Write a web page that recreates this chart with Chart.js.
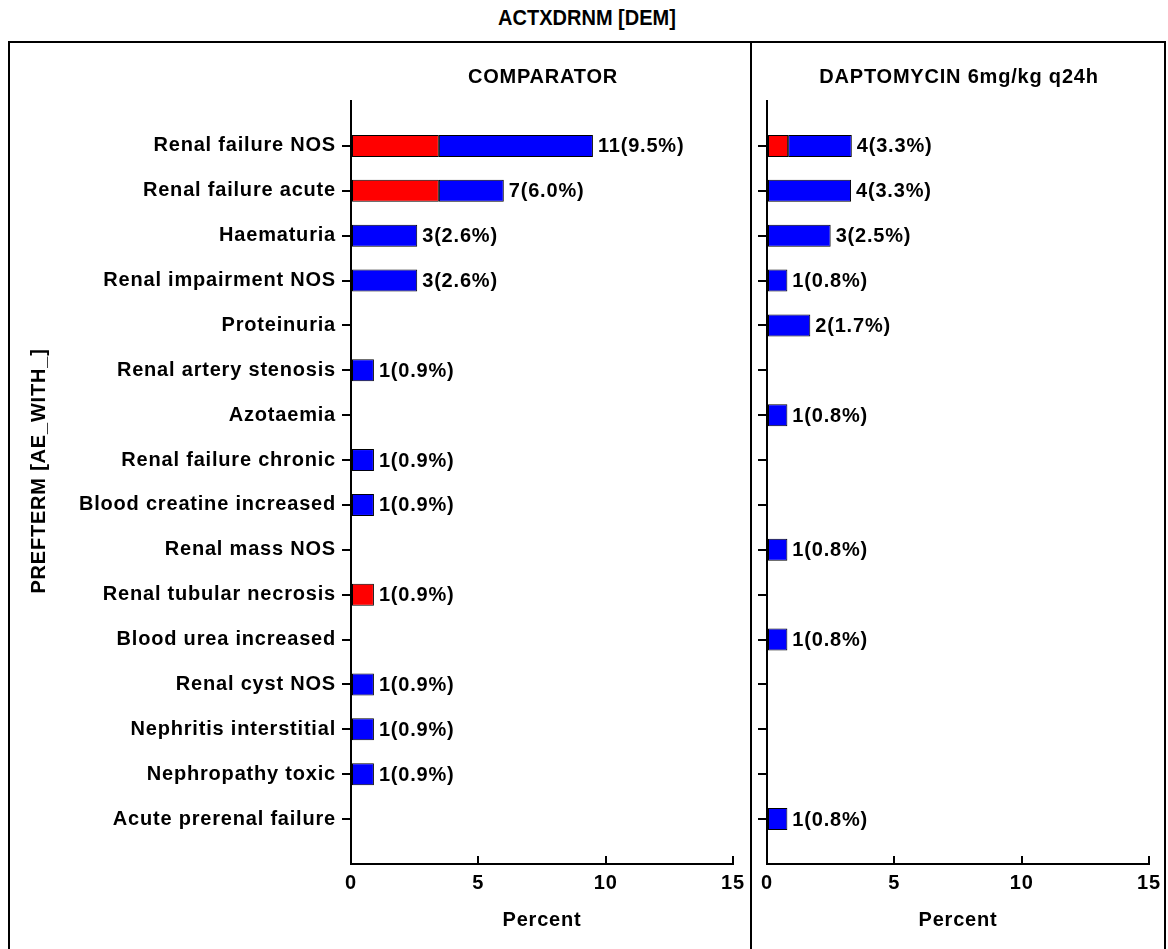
<!DOCTYPE html>
<html><head><meta charset="utf-8">
<script src="https://cdn.jsdelivr.net/npm/chart.js@4/dist/chart.umd.min.js"></script>
<style>
html,body{margin:0;padding:0;background:#fff;}
body{width:1168px;height:949px;position:relative;overflow:hidden;}
#title{position:absolute;left:0;width:1174px;top:6px;text-align:center;font:bold 20px 'Liberation Sans',Arial,sans-serif;color:#000;transform:scaleY(1.1);}
#frame{position:absolute;left:8px;top:41px;width:1158px;height:940px;border:2px solid #000;box-sizing:border-box;}
#divider{position:absolute;left:750px;top:41px;width:2px;height:908px;background:#000;}
#w1{position:absolute;left:10px;top:43px;width:740px;height:906px;}
#w2{position:absolute;left:752px;top:43px;width:412px;height:906px;}
</style></head>
<body>
<div id="title">ACTXDRNM [DEM]</div>
<div id="frame"></div>
<div id="divider"></div>
<div id="w1"><canvas id="c1" width="740" height="906"></canvas></div>
<div id="w2"><canvas id="c2" width="412" height="906"></canvas></div>
<script>
const mainTitle = 'ACTXDRNM [DEM]';
const yTitle = 'PREFTERM [AE_WITH_]';
const xTitle = 'Percent';
const panelTitles = ['COMPARATOR', 'DAPTOMYCIN 6mg/kg q24h'];
const categories = ['Renal failure NOS','Renal failure acute','Haematuria','Renal impairment NOS','Proteinuria','Renal artery stenosis','Azotaemia','Renal failure chronic','Blood creatine increased','Renal mass NOS','Renal tubular necrosis','Blood urea increased','Renal cyst NOS','Nephritis interstitial','Nephropathy toxic','Acute prerenal failure'];
const compRed   = [3.45,3.45,null,null,null,null,null,null,null,null,0.9,null,null,null,null,null];
const compBlue  = [6.05,2.55,2.6,2.6,null,0.9,null,0.9,0.9,null,null,null,0.9,0.9,0.9,null];
const compCount = [11,7,3,3,null,1,null,1,1,null,1,null,1,1,1,null];
const compPct   = [9.5,6.0,2.6,2.6,null,0.9,null,0.9,0.9,null,0.9,null,0.9,0.9,0.9,null];
const daptoRed   = [0.83,null,null,null,null,null,null,null,null,null,null,null,null,null,null,null];
const daptoBlue  = [2.5,3.3,2.5,0.8,1.7,null,0.8,null,null,0.8,null,0.8,null,null,null,0.8];
const daptoCount = [4,4,3,1,2,null,1,null,null,1,null,1,null,null,null,1];
const daptoPct   = [3.3,3.3,2.5,0.8,1.7,null,0.8,null,null,0.8,null,0.8,null,null,null,0.8];
const xMin = 0, xMax = 15, xStep = 5;

const FAM = "'Liberation Sans', Arial, sans-serif";
const FS = 20;
const FONT = 'bold ' + FS + 'px ' + FAM;
const LS = '0.8px';
const RED = '#FF0000', BLUE = '#0000FF';

document.getElementById('title').textContent = mainTitle;

const pad = a => [null, ...a, null];
const yLabels = ['', ...categories, ''];

const spacingPlugin = {
  id: 'spacing',
  beforeUpdate(chart){ chart.ctx.letterSpacing = LS; },
  beforeDraw(chart){ chart.ctx.letterSpacing = LS; }
};

const extras = {
  id: 'extras',
  afterDatasetsDraw(chart, args, o){
    const ctx = chart.ctx, xs = chart.scales.x, ys = chart.scales.y, ca = chart.chartArea;
    ctx.save();
    ctx.letterSpacing = LS;
    ctx.font = FONT; ctx.fillStyle = '#000'; ctx.textBaseline = 'middle'; ctx.textAlign = 'left';
    o.counts.forEach((c, i) => {
      if (c == null) return;
      const total = (o.red[i] || 0) + (o.blue[i] || 0);
      const x = xs.getPixelForValue(total);
      const y = ys.getPixelForValue(i + 1);
      ctx.fillText(c + '(' + o.pcts[i].toFixed(1) + '%)', x + 5, y + 1);
    });
    ctx.textAlign = 'center';
    ctx.fillText(o.panelTitle, (ca.left + ca.right) / 2 + 1, o.panelY);
    if (o.yTitle) {
      ctx.translate(o.yTitleX, o.yTitleY);
      ctx.rotate(-Math.PI / 2);
      ctx.fillText(o.yTitle, 0, 0);
    }
    ctx.restore();
  }
};

function makeChart(id, red, blue, counts, pcts, panelTitle, yWidth, padRight, showYLabels, withYTitle){
  return new Chart(document.getElementById(id), {
    type: 'bar',
    data: {
      labels: yLabels,
      datasets: [
        {data: pad(red), backgroundColor: RED, borderColor: '#000', borderWidth: 1, borderSkipped: false, barPercentage: 0.49, categoryPercentage: 1},
        {data: pad(blue), backgroundColor: BLUE, borderColor: '#000', borderWidth: 1, borderSkipped: false, barPercentage: 0.49, categoryPercentage: 1}
      ]
    },
    options: {
      indexAxis: 'y',
      responsive: false,
      animation: false,
      devicePixelRatio: 1,
      layout: {padding: {top: 58, right: padRight, bottom: 0, left: 0}},
      plugins: {
        legend: {display: false},
        tooltip: {enabled: false},
        title: {display: false},
        extras: {red, blue, counts, pcts, panelTitle, panelY: 34,
                 yTitle: withYTitle ? yTitle : null, yTitleX: 29, yTitleY: 428}
      },
      scales: {
        x: {
          type: 'linear', stacked: true, min: xMin, max: xMax,
          ticks: {stepSize: xStep, color: '#000', font: {family: FAM, size: FS, weight: 'bold'}, padding: 15, maxRotation: 0},
          grid: {display: true, drawOnChartArea: false, drawTicks: true, tickLength: -8, color: '#000', lineWidth: 2},
          border: {display: true, color: '#000', width: 2},
          title: {display: true, text: xTitle, color: '#000', font: {family: FAM, size: FS, weight: 'bold'}, padding: {top: 0, bottom: 17}},
          afterFit(s){ s.height = 85; s.paddingLeft = 0; s.paddingRight = 0; }
        },
        y: {
          type: 'category', stacked: true, offset: false,
          ticks: {display: showYLabels, color: '#000', font: {family: FAM, size: FS, weight: 'bold'}, padding: 6, autoSkip: false},
          grid: {display: true, drawOnChartArea: false, drawTicks: true, tickLength: 9, lineWidth: 2, offset: false,
                 tickColor: c => (c.index === 0 || c.index === yLabels.length - 1) ? 'rgba(0,0,0,0)' : '#000', color: '#000'},
          border: {display: true, color: '#000', width: 2},
          afterFit(s){ s.width = yWidth; s.paddingTop = 0; s.paddingBottom = 0; }
        }
      }
    },
    plugins: [spacingPlugin, extras]
  });
}

makeChart('c1', compRed, compBlue, compCount, compPct, panelTitles[0], 341, 17, true, true);
makeChart('c2', daptoRed, daptoBlue, daptoCount, daptoPct, panelTitles[1], 15, 15, false, false);
</script>
</body></html>
